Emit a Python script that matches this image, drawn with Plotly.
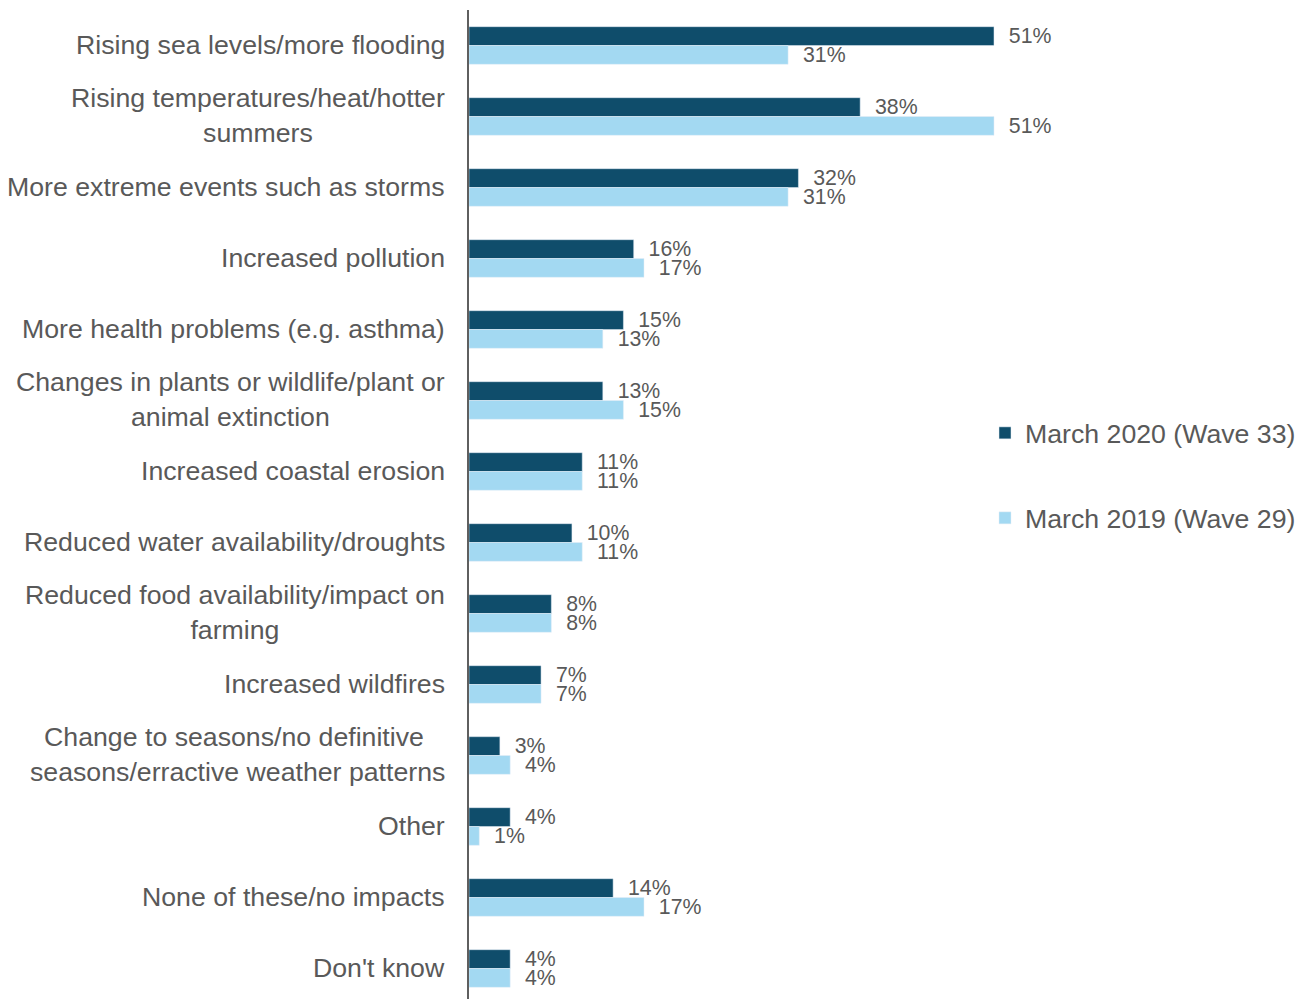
import plotly.graph_objects as go

categories = [
    "Rising sea levels/more flooding",
    "Rising temperatures/heat/hotter<br>summers",
    "More extreme events such as storms",
    "Increased pollution",
    "More health problems (e.g. asthma)",
    "Changes in plants or wildlife/plant or<br>animal extinction",
    "Increased coastal erosion",
    "Reduced water availability/droughts",
    "Reduced food availability/impact on<br>farming",
    "Increased wildfires",
    "Change to seasons/no definitive <br>seasons/erractive weather patterns",
    "Other",
    "None of these/no impacts",
    "Don't know",
]
wave33_2020 = [51, 38, 32, 16, 15, 13, 11, 10, 8, 7, 3, 4, 14, 4]
wave29_2019 = [31, 51, 31, 17, 13, 15, 11, 11, 8, 7, 4, 1, 17, 4]

DARK = "#0F4D6B"
LIGHT = "#A3D9F2"
TEXT = "#595959"
FONT = "Arial, Liberation Sans, sans-serif"

W, H = 1309, 999
ML, MT = 469, 10
plot_w = W - ML
px_per_pct = 10.294
n_units = (H - MT) / 71.0

fig = go.Figure()
fig.add_trace(go.Bar(
    y=categories, x=wave33_2020, orientation="h",
    name="March 2020 (Wave 33)", marker_color=DARK,
    text=[f"\u00a0\u00a0{v}%" for v in wave33_2020], textposition="outside",
    textfont=dict(size=21.3, color=TEXT, family=FONT),
    constraintext="none", cliponaxis=False, legend="legend",
))
fig.add_trace(go.Bar(
    y=categories, x=wave29_2019, orientation="h",
    name="March 2019 (Wave 29)", marker_color=LIGHT,
    text=[f"\u00a0\u00a0{v}%" for v in wave29_2019], textposition="outside",
    textfont=dict(size=21.3, color=TEXT, family=FONT),
    constraintext="none", cliponaxis=False, legend="legend2",
))

# category labels, centred multi-line text to the left of the axis
for c in categories:
    fig.add_annotation(
        xref="paper", yref="y", x=0, y=c, xanchor="right", yanchor="middle",
        xshift=-22, yshift=1, text=c, showarrow=False, align="center",
        font=dict(size=26.7, color=TEXT, family=FONT),
    )

def paper_y(px):
    return 1 - (px - MT) / (H - MT)

legend_style = dict(
    x=(985 - ML) / plot_w, xanchor="left", yanchor="middle",
    font=dict(size=26.7, color=TEXT, family=FONT), bgcolor="rgba(0,0,0,0)",
)

fig.update_layout(
    width=W, height=H,
    margin=dict(l=ML, r=0, t=MT, b=0),
    paper_bgcolor="white", plot_bgcolor="white",
    barmode="group", bargap=0.47, bargroupgap=0,
    font=dict(family=FONT, color=TEXT),
    showlegend=True,
    legend=dict(y=paper_y(433), **legend_style),
    legend2=dict(y=paper_y(518), **legend_style),
    xaxis=dict(range=[0, plot_w / px_per_pct], visible=False, fixedrange=True),
    yaxis=dict(
        type="category", range=[-0.5 + n_units, -0.5],
        showticklabels=False, ticks="", showgrid=False, zeroline=False,
        showline=True, linecolor="#5f5f5f", linewidth=2,
    ),
)

fig.write_html("out.html")
